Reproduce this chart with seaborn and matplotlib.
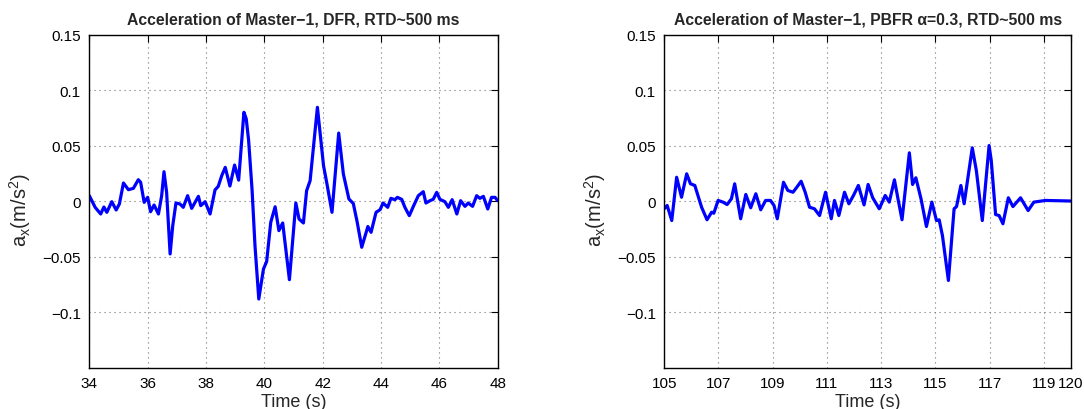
import numpy as np
import pandas as pd
import matplotlib
matplotlib.use("Agg")
import matplotlib.pyplot as plt
import seaborn as sns

# ---------------- data ----------------
t_dfr = [34.0, 34.2, 34.39, 34.5, 34.6, 34.77, 34.92, 35.03, 35.17, 35.34, 35.51, 35.68, 35.76,
         35.88, 36.0, 36.1, 36.22, 36.37, 36.48, 36.56, 36.65, 36.77, 36.86, 36.97, 37.11, 37.22,
         37.37, 37.51, 37.74, 37.82, 37.97, 38.14, 38.31, 38.42, 38.54, 38.66, 38.82, 38.98, 39.12,
         39.3, 39.38, 39.46, 39.58, 39.68, 39.81, 39.97, 40.08, 40.22, 40.37, 40.5, 40.63, 40.86,
         41.08, 41.19, 41.34, 41.45, 41.57, 41.82, 42.03, 42.15, 42.32, 42.55, 42.71, 42.9, 43.05,
         43.18, 43.34, 43.55, 43.66, 43.83, 43.97, 44.07, 44.23, 44.34, 44.48, 44.56, 44.71, 44.82,
         44.97, 45.11, 45.28, 45.45, 45.54, 45.68, 45.79, 45.91, 46.02, 46.19, 46.31, 46.44, 46.6,
         46.73, 46.88, 46.99, 47.14, 47.28, 47.39, 47.51, 47.66, 47.79, 47.91, 48.0]
a_dfr = [0.0048, -0.0057, -0.0117, -0.0054, -0.0102, -0.0006, -0.0081, -0.0027, 0.0162, 0.0102,
         0.0114, 0.0192, 0.0168, -0.0012, 0.0033, -0.0096, -0.0036, -0.0117, 0.0048, 0.0264, 0.0078,
         -0.0477, -0.0222, -0.0018, -0.0027, -0.0057, 0.0048, -0.0066, 0.0042, -0.0042, -0.0006,
         -0.0117, 0.0100, 0.0132, 0.0228, 0.0303, 0.0135, 0.0324, 0.0188, 0.0799, 0.074, 0.055,
         0.010, -0.0403, -0.0883, -0.0613, -0.0545, -0.0192, -0.0052, -0.0267, -0.0198, -0.0709,
         -0.0018, -0.0162, -0.0198, 0.0093, 0.0183, 0.0844, 0.0318, 0.0150, -0.0102, 0.0612, 0.0243,
         0.0018, -0.0022, -0.0185, -0.0417, -0.0230, -0.0282, -0.0102, -0.0078, -0.0018, -0.0057,
         0.0024, 0.0012, 0.0033, 0.0015, -0.0057, -0.0132, -0.0048, 0.0048, 0.0084, -0.0018, 0.0003,
         0.0015, 0.0078, 0.0015, -0.0006, -0.0057, 0.0012, -0.0117, 0.0003, -0.0048, -0.0018,
         -0.0048, 0.0048, 0.0024, 0.0042, -0.0072, 0.0033, 0.0033, 0.0003]

t_pbfr = [105.0, 105.11, 105.28, 105.46, 105.64, 105.83, 105.97, 106.13, 106.38, 106.58, 106.75,
          106.83, 106.99, 107.17, 107.32, 107.48, 107.6, 107.82, 108.01, 108.19, 108.38, 108.56,
          108.74, 108.92, 109.05, 109.17, 109.4, 109.56, 109.75, 109.89, 110.05, 110.2, 110.36,
          110.54, 110.73, 110.95, 111.16, 111.28, 111.44, 111.65, 111.81, 111.98, 112.16, 112.37,
          112.52, 112.69, 112.93, 113.15, 113.3, 113.49, 113.61, 113.77, 114.04, 114.16, 114.28,
          114.47, 114.67, 114.87, 115.04, 115.14, 115.26, 115.48, 115.69, 115.78, 115.94, 116.06,
          116.36, 116.51, 116.73, 116.98, 117.06, 117.22, 117.35, 117.49, 117.69, 117.86, 118.14,
          118.42, 118.63, 119.06, 120.0]
a_pbfr = [-0.007, -0.004, -0.0176, 0.0214, 0.0034, 0.0245, 0.0155, 0.014, -0.0056, -0.0169, -0.0101,
          -0.011, 0.0005, -0.001, -0.0032, 0.002, 0.0155, -0.016, 0.0059, -0.0061, 0.0065, -0.0079,
          0.0005, 0.0005, -0.004, -0.016, 0.0169, 0.0095, 0.0079, 0.0124, 0.0178, 0.0079, -0.0056,
          -0.007, -0.0131, 0.0079, -0.016, 0.0005, -0.0131, 0.0079, -0.0025, 0.005, 0.014, -0.0035,
          0.0149, 0.0029, -0.007, 0.005, -0.001, 0.0191, 0.0034, -0.0169, 0.0434, 0.0149, 0.0209,
          0.002, -0.023, -0.001, -0.0176, -0.017, -0.0311, -0.0716, -0.007, -0.005, 0.014, -0.0025,
          0.0479, 0.0275, -0.0176, 0.05, 0.0365, -0.0122, -0.0131, -0.0205, 0.0029, -0.005, 0.0029,
          -0.0086, -0.001, 0.0005, 0.0]

xticks_dfr = [34, 36, 38, 40, 42, 44, 46, 48]
xticks_pbfr = [105, 107, 109, 111, 113, 115, 117, 119, 120]
yticks = [-0.1, -0.05, 0, 0.05, 0.1, 0.15]
ytick_labels = ["\u22120.1", "\u22120.05", "0", "0.05", "0.1", "0.15"]

titles = ["Acceleration of Master\u22121, DFR, RTD~500 ms",
          "Acceleration of Master\u22121, PBFR \u03b1=0.3, RTD~500 ms"]

# ---------------- style ----------------
sns.set_theme(style="white")
plt.rcParams["font.family"] = ["Liberation Sans", "DejaVu Sans"]
plt.rcParams["axes.unicode_minus"] = True

fig = plt.figure(figsize=(10.84, 4.10), dpi=100)
ax1 = fig.add_axes([0.0824, 0.1012, 0.3767, 0.8122])
ax2 = fig.add_axes([0.6127, 0.1012, 0.3753, 0.8122])

panels = [(ax1, t_dfr, a_dfr, xticks_dfr, (34, 48), titles[0]),
          (ax2, t_pbfr, a_pbfr, xticks_pbfr, (105, 120), titles[1])]

for ax, t, a, xt, xl, title in panels:
    df = pd.DataFrame({"t": t, "a": a})
    sns.lineplot(data=df, x="t", y="a", ax=ax, color="#0000ff", linewidth=2.3,
                 estimator=None, sort=False)
    ax.set_xlim(*xl)
    ax.set_ylim(-0.15, 0.15)
    ax.set_xticks(xt)
    ax.set_xticklabels([str(v) for v in xt])
    ax.set_yticks(yticks)
    ax.set_yticklabels(ytick_labels)
    ax.grid(True, linestyle=(0, (1, 3.5)), color="0.45", linewidth=0.8)
    ax.tick_params(direction="in", length=5, width=0.8, top=True, right=True,
                   labelsize=11, colors="black", pad=6)
    for s in ax.spines.values():
        s.set_visible(True)
        s.set_color("black")
        s.set_linewidth(1.0)
    ax.set_xlabel("Time (s)", fontsize=13, labelpad=2)
    ax.set_ylabel(r"a$_\mathregular{x}$(m/s$^\mathregular{2}$)", fontsize=14.5)
    ax.yaxis.set_label_coords(-0.139, 0.475)
    ax.set_title(title, fontsize=11.3, fontweight="bold", pad=8)

fig.savefig("out.png", dpi=100)
